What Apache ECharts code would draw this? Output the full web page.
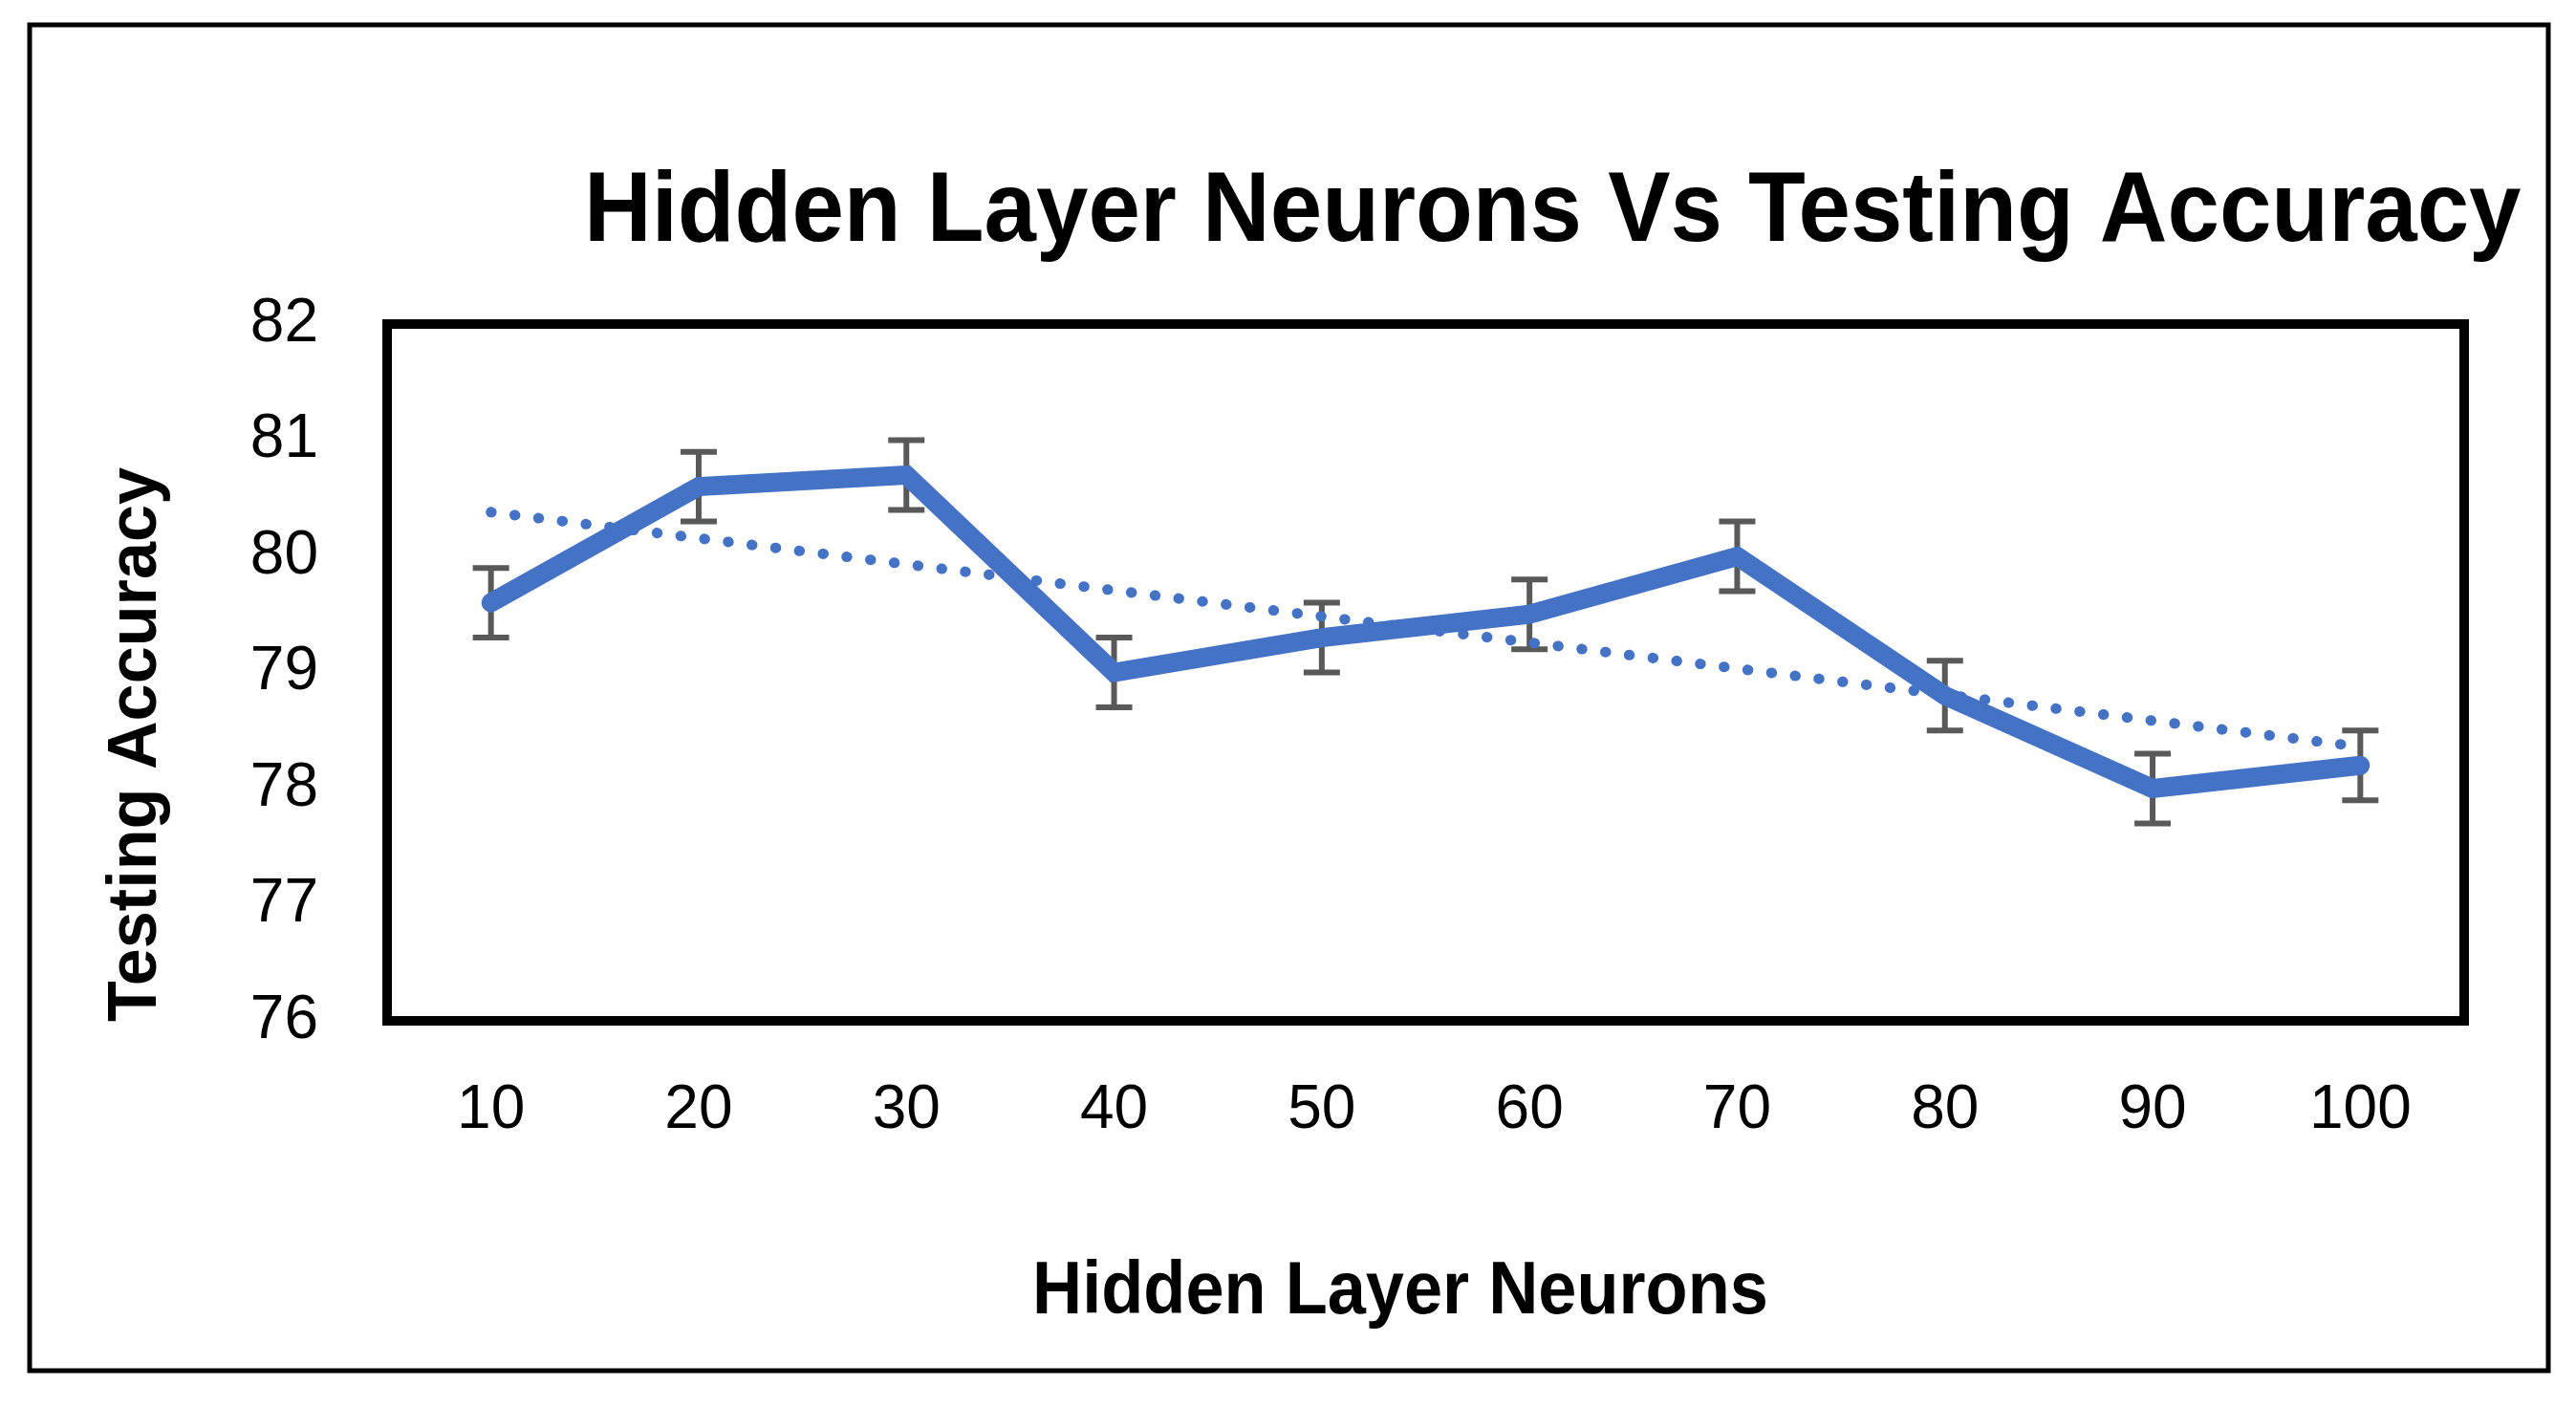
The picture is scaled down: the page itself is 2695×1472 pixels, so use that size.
<!DOCTYPE html>
<html>
<head>
<meta charset="utf-8">
<script src="https://cdn.jsdelivr.net/npm/echarts@6/dist/echarts.min.js"></script>
<style>
html,body{margin:0;padding:0;background:#fff;}
#chart{width:2695px;height:1472px;}
</style>
</head>
<body>
<div id="chart"></div>
<script>
const categories = ['10','20','30','40','50','60','70','80','90','100'];
const accuracy = [79.6, 80.6, 80.7, 79.0, 79.3, 79.5, 80.0, 78.8, 78.0, 78.2];
const errorSize = [0.3, 0.3, 0.3, 0.3, 0.3, 0.3, 0.3, 0.3, 0.3, 0.3];
const trendEnds = [80.38, 78.36];

const titleText = 'Hidden Layer Neurons Vs Testing Accuracy';
const xName = 'Hidden Layer Neurons';
const yName = 'Testing Accuracy';

const trendData = categories.map((c, i) => i === 0 ? trendEnds[0] : (i === categories.length - 1 ? trendEnds[1] : null));
const errData = accuracy.map((v, i) => [i, v - errorSize[i], v + errorSize[i]]);

const FONT = '"Liberation Sans", Arial, sans-serif';

const chart = echarts.init(document.getElementById('chart'), null, {renderer: 'canvas'});
chart.setOption({
  backgroundColor: '#ffffff',
  animation: false,
  graphic: [
    {type: 'rect', shape: {x: 31, y: 26, width: 2635, height: 1408}, style: {fill: 'none', stroke: '#000', lineWidth: 5}, z: 100},
    {type: 'text', x: 611, y: 172, scaleX: 0.95,
      style: {text: titleText, x: 0, y: 0, align: 'left', verticalAlign: 'top',
        font: 'bold 103px ' + FONT, fill: '#000'}},
    {type: 'text', x: 1465, y: 1352, scaleX: 0.925,
      style: {text: xName, x: 0, y: 0, align: 'center', verticalAlign: 'middle',
        font: 'bold 78px ' + FONT, fill: '#000'}},
    {type: 'text', x: 143, y: 779, rotation: Math.PI / 2, scaleX: 0.975,
      style: {text: yName, x: 0, y: 0, align: 'center', verticalAlign: 'middle',
        font: 'bold 72px ' + FONT, fill: '#000'}}
  ],
  grid: {left: 405, right: 117, top: 339, bottom: 404, show: true, borderColor: '#000', borderWidth: 10, backgroundColor: 'transparent'},
  xAxis: {
    type: 'category',
    data: categories,
    boundaryGap: true,
    axisLine: {show: false},
    axisTick: {show: false},
    axisLabel: {margin: 62, fontFamily: FONT, fontSize: 64, color: '#000'}
  },
  yAxis: {
    type: 'value',
    min: 76, max: 82, interval: 1,
    axisLine: {show: false},
    axisTick: {show: false},
    splitLine: {show: false},
    axisLabel: {margin: 72, fontFamily: FONT, fontSize: 64, color: '#000'}
  },
  series: [
    {
      type: 'custom',
      z: 2,
      data: errData,
      renderItem: function (params, api) {
        const i = api.value(0);
        const lo = api.coord([i, api.value(1)]);
        const hi = api.coord([i, api.value(2)]);
        const hw = 19;
        const st = {stroke: '#595959', lineWidth: 6};
        return {type: 'group', children: [
          {type: 'line', shape: {x1: lo[0], y1: lo[1], x2: hi[0], y2: hi[1]}, style: st},
          {type: 'line', shape: {x1: lo[0] - hw, y1: lo[1], x2: lo[0] + hw, y2: lo[1]}, style: st},
          {type: 'line', shape: {x1: hi[0] - hw, y1: hi[1], x2: hi[0] + hw, y2: hi[1]}, style: st}
        ]};
      }
    },
    {
      type: 'line',
      z: 3,
      data: accuracy,
      showSymbol: false,
      lineStyle: {color: '#4472C4', width: 20, cap: 'round', join: 'miter'}
    },
    {
      type: 'line',
      z: 4,
      data: trendData,
      connectNulls: true,
      showSymbol: false,
      lineStyle: {color: '#4472C4', width: 11, type: [0.5, 24.5], cap: 'round'}
    }
  ]
});
</script>
</body>
</html>
